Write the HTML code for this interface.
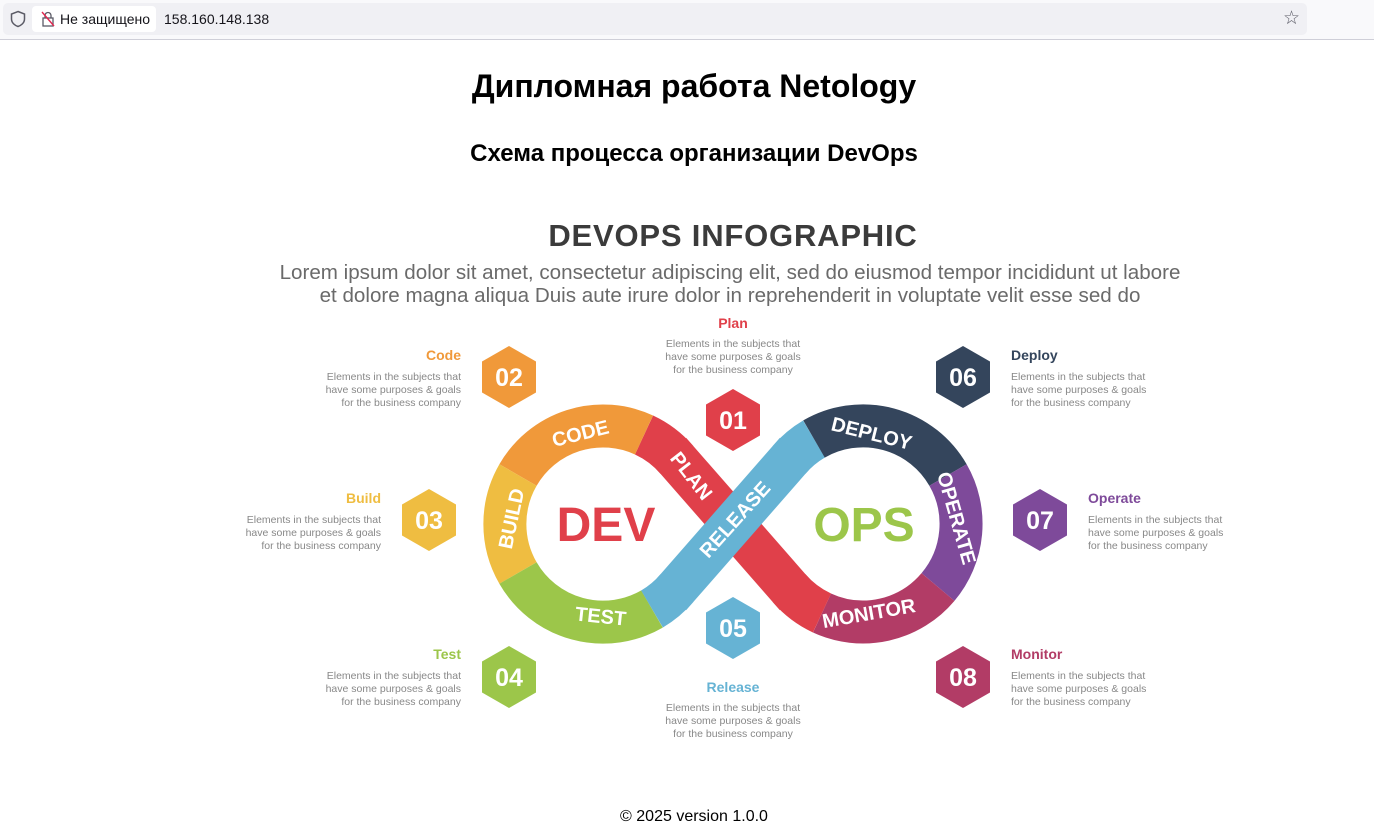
<!DOCTYPE html>
<html><head><meta charset="utf-8"><style>
html,body{margin:0;padding:0;background:#fff;width:1374px;height:840px;overflow:hidden;font-family:"Liberation Sans",sans-serif;}
.bar{position:absolute;left:0;top:0;width:1374px;height:39px;background:#f9f9fb;border-bottom:1px solid #cfcfd8;}
.url{position:absolute;left:3px;top:3px;width:1304px;height:32px;background:#f0f0f4;border-radius:5px;}
.sec{position:absolute;left:32px;top:6px;width:124px;height:26px;background:#fff;border-radius:4px;font-size:14px;line-height:26px;color:#15141a;}
.t{position:absolute;left:7px;width:1374px;text-align:center;font-weight:bold;color:#000;}
</style></head><body>
<div class="bar"><div class="url"></div>
<svg style="position:absolute;left:9px;top:10px" width="18" height="18" viewBox="0 0 18 18"><path d="M9 1.5 L15.5 4 V9 C15.5 13 12 15.5 9 16.5 C6 15.5 2.5 13 2.5 9 V4 Z" fill="none" stroke="#5b5b66" stroke-width="1.5"/></svg>
<div class="sec"><svg style="position:absolute;left:8px;top:5px" width="16" height="16" viewBox="0 0 16 16"><rect x="3" y="7" width="10" height="8" fill="none" stroke="#5b5b66" stroke-width="1.3"/><path d="M5 7 V4.5 a3 3 0 0 1 6 0 V7" fill="none" stroke="#5b5b66" stroke-width="1.3"/><line x1="2" y1="1" x2="14" y2="15" stroke="#e22850" stroke-width="1.4"/></svg><span style="position:absolute;left:28px">Не защищено</span></div>
<div style="position:absolute;left:164px;top:11px;font-size:14px;color:#15141a">158.160.148.138</div>
<div style="position:absolute;left:1283px;top:7px;font-size:19px;color:#5b5b66">☆</div>
</div>
<div class="t" style="top:68px;font-size:32px">Дипломная работа Netology</div>
<div class="t" style="top:140px;font-size:24px">Схема процесса организации DevOps</div>
<div class="t" style="top:808px;font-size:16px;font-weight:normal">© 2025 version 1.0.0</div>

<svg style="position:absolute;left:0;top:0" width="1374" height="840" viewBox="0 0 1374 840" font-family="Liberation Sans, sans-serif">
<text x="733" y="246" text-anchor="middle" font-size="31" font-weight="bold" fill="#3b3b3b" letter-spacing="0.8">DEVOPS INFOGRAPHIC</text>
<text x="730" y="279" text-anchor="middle" font-size="20.6" fill="#6a6a6a">Lorem ipsum dolor sit amet, consectetur adipiscing elit, sed do eiusmod tempor incididunt ut labore</text>
<text x="730" y="302" text-anchor="middle" font-size="20.6" fill="#6a6a6a">et dolore magna aliqua Duis aute irure dolor in reprehenderit in voluptate velit esse sed do</text>

<g fill="none" stroke-width="43">
<line x1="670" y1="452" x2="796" y2="596" stroke="#e0404a"/>
<path d="M677 460 A98 98 0 0 0 644 435" stroke="#e0404a"/>
<path d="M644 435 A98 98 0 0 0 518 475" stroke="#f0993a"/>
<path d="M518 475 A98 98 0 0 0 518 573" stroke="#efbd41"/>
<path d="M518 573 A98 98 0 0 0 652 609" stroke="#9cc64a"/>
<path d="M652 609 A98 98 0 0 0 677 588" stroke="#66b3d4"/>
<path d="M789 460 A98 98 0 0 1 814 439" stroke="#66b3d4"/>
<path d="M814 439 A98 98 0 0 1 948 475" stroke="#34455c"/>
<path d="M948 475 A98 98 0 0 1 938 587" stroke="#7e4a9a"/>
<path d="M938 587 A98 98 0 0 1 822 613" stroke="#b23c66"/>
<path d="M822 613 A98 98 0 0 1 789 588" stroke="#e0404a"/>
<line x1="670" y1="596" x2="796" y2="452" stroke="#66b3d4"/>
</g>
<g fill="#fff" font-weight="bold" font-size="20">
<text transform="translate(582,440) rotate(-14)" text-anchor="middle">CODE</text>
<text transform="translate(518,520) rotate(-78)" text-anchor="middle">BUILD</text>
<text transform="translate(600,623) rotate(6)" text-anchor="middle">TEST</text>
<text transform="translate(686,480) rotate(52)" text-anchor="middle">PLAN</text>
<text transform="translate(740,524) rotate(-48)" text-anchor="middle">RELEASE</text>
<text transform="translate(870,440) rotate(14)" text-anchor="middle">DEPLOY</text>
<text transform="translate(950,520) rotate(74)" text-anchor="middle">OPERATE</text>
<text transform="translate(870,620) rotate(-10)" text-anchor="middle">MONITOR</text>
</g>
<text x="606" y="541" text-anchor="middle" font-size="48" font-weight="bold" fill="#e0404a">DEV</text>
<text x="864" y="541" text-anchor="middle" font-size="48" font-weight="bold" fill="#9cc64a">OPS</text>

<defs><polygon id="hx" points="0,-31 27,-15.5 27,15.5 0,31 -27,15.5 -27,-15.5"/></defs>
<g font-size="25" font-weight="bold" fill="#fff" text-anchor="middle">
<use href="#hx" x="733" y="420" fill="#e0404a"/><text x="733" y="429">01</text>
<use href="#hx" x="509" y="377" fill="#f0993a"/><text x="509" y="386">02</text>
<use href="#hx" x="429" y="520" fill="#efbd41"/><text x="429" y="529">03</text>
<use href="#hx" x="509" y="677" fill="#9cc64a"/><text x="509" y="686">04</text>
<use href="#hx" x="733" y="628" fill="#66b3d4"/><text x="733" y="637">05</text>
<use href="#hx" x="963" y="377" fill="#34455c"/><text x="963" y="386">06</text>
<use href="#hx" x="1040" y="520" fill="#7e4a9a"/><text x="1040" y="529">07</text>
<use href="#hx" x="963" y="677" fill="#b23c66"/><text x="963" y="686">08</text>
</g>
<g font-size="10.5" fill="#888">
<g text-anchor="end">
<text x="461" y="360" font-size="14" font-weight="bold" fill="#f0993a">Code</text>
<text x="461" y="380">Elements in the subjects that</text><text x="461" y="393">have  some purposes &amp; goals</text><text x="461" y="406">for the  business company</text>
<text x="381" y="503" font-size="14" font-weight="bold" fill="#efbd41">Build</text>
<text x="381" y="523">Elements in the subjects that</text><text x="381" y="536">have  some purposes &amp; goals</text><text x="381" y="549">for the  business company</text>
<text x="461" y="659" font-size="14" font-weight="bold" fill="#9cc64a">Test</text>
<text x="461" y="679">Elements in the subjects that</text><text x="461" y="692">have  some purposes &amp; goals</text><text x="461" y="705">for the  business company</text>
</g>
<g>
<text x="1011" y="360" font-size="14" font-weight="bold" fill="#34455c">Deploy</text>
<text x="1011" y="380">Elements in the subjects that</text><text x="1011" y="393">have  some purposes &amp; goals</text><text x="1011" y="406">for the  business company</text>
<text x="1088" y="503" font-size="14" font-weight="bold" fill="#7e4a9a">Operate</text>
<text x="1088" y="523">Elements in the subjects that</text><text x="1088" y="536">have  some purposes &amp; goals</text><text x="1088" y="549">for the  business company</text>
<text x="1011" y="659" font-size="14" font-weight="bold" fill="#b23c66">Monitor</text>
<text x="1011" y="679">Elements in the subjects that</text><text x="1011" y="692">have  some purposes &amp; goals</text><text x="1011" y="705">for the  business company</text>
</g>
<g text-anchor="middle">
<text x="733" y="328" font-size="14" font-weight="bold" fill="#e0404a">Plan</text>
<text x="733" y="347">Elements in the subjects that</text><text x="733" y="360">have  some purposes &amp; goals</text><text x="733" y="373">for the  business company</text>
<text x="733" y="692" font-size="14" font-weight="bold" fill="#66b3d4">Release</text>
<text x="733" y="711">Elements in the subjects that</text><text x="733" y="724">have  some purposes &amp; goals</text><text x="733" y="737">for the  business company</text>
</g>
</g>
</svg>
</body></html>
